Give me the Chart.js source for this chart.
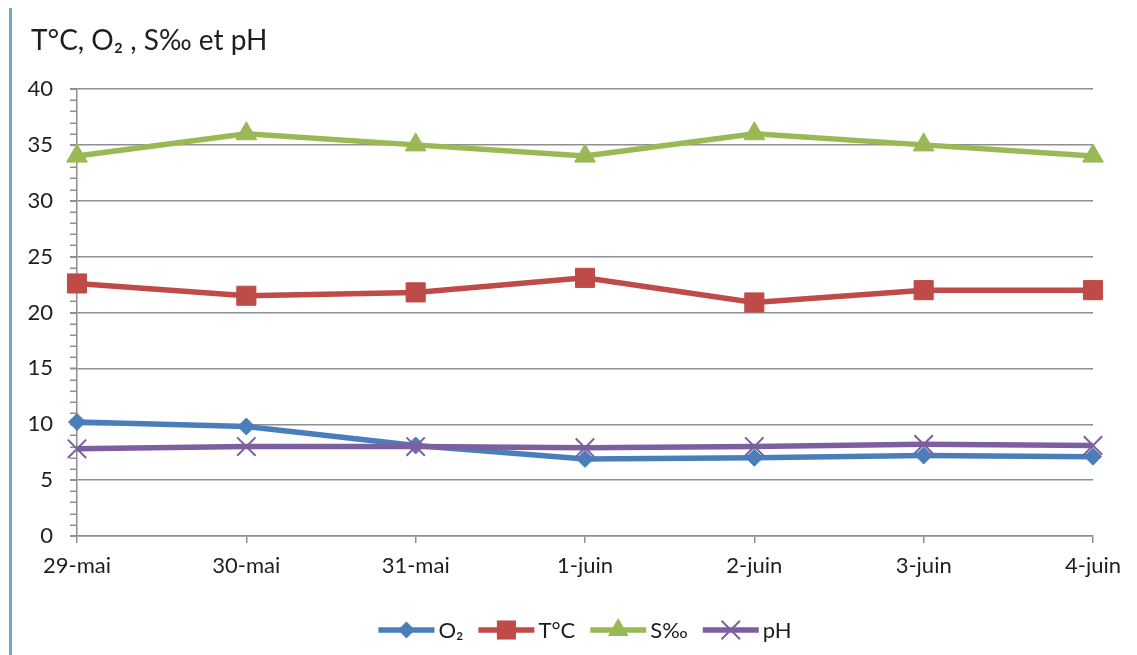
<!DOCTYPE html>
<html>
<head>
<meta charset="utf-8">
<script src="https://cdn.jsdelivr.net/npm/chart.js@4/dist/chart.umd.min.js"></script>
<style>
  html, body { margin: 0; padding: 0; background: #ffffff; }
  #wrap { position: relative; width: 1137px; height: 655px; }
  #frame { position: absolute; left: 9px; top: 8px; bottom: 0; width: 3px; background: #6fa9c6; }
  canvas { position: absolute; left: 0; top: 0; }
</style>
</head>
<body>
<div id="wrap">
  <div id="frame"></div>
  <canvas id="c" width="1137" height="655"></canvas>
</div>
<script>
// Daily measurements, 29 May to 4 June
const categories = ['29-mai', '30-mai', '31-mai', '1-juin', '2-juin', '3-juin', '4-juin'];
const o2 = [10.2, 9.8, 8.1, 6.9, 7.0, 7.2, 7.1];
const temperature = [22.6, 21.5, 21.8, 23.1, 20.9, 22.0, 22.0];
const salinity = [34, 36, 35, 34, 36, 35, 34];
const ph = [7.8, 8.0, 8.0, 7.9, 8.0, 8.2, 8.1];
const yMin = 0, yMax = 40, yStep = 5, yMinorStep = 1;

const FONT = "Lato, 'DejaVu Sans', sans-serif";
const TEXT = '#1e1e1e';
const GRID = '#8f8f8f';

const series = [
  { label: 'O\u2082', data: o2, color: '#4A7EBB', marker: 'rectRot', radius: 8.5, order: 4 },
  { label: 'T\u00B0C', data: temperature, color: '#BE4B48', marker: 'rect', radius: 13.5, order: 3 },
  { label: 'S\u2030', data: salinity, color: '#98B954', marker: 'triangle', radius: 12, order: 2 },
  { label: 'pH', data: ph, color: '#7D5FA0', marker: 'crossRot', radius: 13, order: 1 }
];

// Small marker painter used for the legend samples
function paintMarker(ctx, kind, x, y, r, color) {
  ctx.save();
  ctx.fillStyle = color;
  ctx.strokeStyle = color;
  ctx.beginPath();
  if (kind === 'rectRot') {
    ctx.moveTo(x - r, y); ctx.lineTo(x, y - r); ctx.lineTo(x + r, y); ctx.lineTo(x, y + r);
    ctx.closePath(); ctx.fill();
  } else if (kind === 'rect') {
    const s = Math.SQRT1_2 * r;
    ctx.rect(x - s, y - s, 2 * s, 2 * s); ctx.fill();
  } else if (kind === 'triangle') {
    ctx.moveTo(x, y - r);
    ctx.lineTo(x + r * Math.sin(Math.PI * 2 / 3), y - r * Math.cos(Math.PI * 2 / 3));
    ctx.lineTo(x + r * Math.sin(Math.PI * 4 / 3), y - r * Math.cos(Math.PI * 4 / 3));
    ctx.closePath(); ctx.fill();
  } else if (kind === 'crossRot') {
    const d = r * Math.SQRT1_2;
    ctx.lineWidth = 2;
    ctx.moveTo(x - d, y - d); ctx.lineTo(x + d, y + d);
    ctx.moveTo(x - d, y + d); ctx.lineTo(x + d, y - d);
    ctx.stroke();
  }
  ctx.restore();
}

const decorations = {
  id: 'decorations',
  beforeDatasetsDraw(chart) {
    // minor ticks on the value axis
    const ctx = chart.ctx;
    const y = chart.scales.y;
    const left = chart.chartArea.left;
    ctx.save();
    ctx.strokeStyle = GRID;
    ctx.lineWidth = 1.5;
    for (let v = yMin; v <= yMax; v += yMinorStep) {
      const py = Math.round(y.getPixelForValue(v)) + 0.25;
      ctx.beginPath();
      ctx.moveTo(left - 7, py);
      ctx.lineTo(left, py);
      ctx.stroke();
    }
    ctx.restore();
  },
  afterDraw(chart) {
    const ctx = chart.ctx;
    // title
    ctx.save();
    ctx.fillStyle = TEXT;
    ctx.font = '28px ' + FONT;
    ctx.textBaseline = 'alphabetic';
    ctx.textAlign = 'left';
    ctx.fillText('T\u00B0C, O\u2082 , S\u2030 et pH', 31, 50);

    // legend: line sample with marker, then label
    ctx.font = '22px ' + FONT;
    ctx.textBaseline = 'middle';
    const lineLen = 56, gapText = 4, gapItem = 15;
    const widths = series.map(s => lineLen + gapText + ctx.measureText(s.label).width);
    const total = widths.reduce((a, b) => a + b, 0) + gapItem * (series.length - 1);
    const ca = chart.chartArea;
    let x = (ca.left + ca.right) / 2 - total / 2;
    const ly = 630;
    series.forEach((s, i) => {
      ctx.strokeStyle = s.color;
      ctx.lineWidth = 5.5;
      ctx.beginPath();
      ctx.moveTo(x, ly);
      ctx.lineTo(x + lineLen, ly);
      ctx.stroke();
      paintMarker(ctx, s.marker, x + lineLen / 2, ly, s.radius, s.color);
      ctx.fillStyle = TEXT;
      ctx.fillText(s.label, x + lineLen + gapText, ly + 1);
      x += widths[i] + gapItem;
    });
    ctx.restore();
  }
};

new Chart(document.getElementById('c'), {
  type: 'line',
  data: {
    labels: categories,
    datasets: series.map(s => ({
      label: s.label,
      data: s.data,
      order: s.order,
      borderColor: s.color,
      backgroundColor: s.color,
      borderWidth: 5.5,
      pointStyle: s.marker,
      pointRadius: s.radius,
      pointHoverRadius: s.radius,
      pointBorderWidth: s.marker === 'crossRot' ? 2 : 1,
      pointBorderColor: s.color,
      pointBackgroundColor: s.color,
      tension: 0,
      fill: false
    }))
  },
  options: {
    responsive: false,
    animation: false,
    devicePixelRatio: 1,
    layout: { padding: { top: 89, right: 44, bottom: 0, left: 0 } },
    plugins: { legend: { display: false }, title: { display: false }, tooltip: { enabled: false } },
    scales: {
      x: {
        type: 'category',
        offset: false,
        grid: { display: true, drawOnChartArea: false, drawTicks: true, tickLength: 7, color: GRID, lineWidth: 1.5 },
        border: { display: true, color: GRID, width: 1.5 },
        ticks: { color: TEXT, font: { family: FONT, size: 22 }, padding: 10, maxRotation: 0, autoSkip: false },
        afterFit(scale) { scale.height = 119; }
      },
      y: {
        min: yMin,
        max: yMax,
        grid: { color: GRID, lineWidth: 1.5, tickLength: 7, drawTicks: true },
        border: { display: true, color: GRID, width: 1.5 },
        ticks: { stepSize: yStep, color: TEXT, font: { family: FONT, size: 22 }, padding: 17 },
        afterFit(scale) { scale.width = 77; }
      }
    }
  },
  plugins: [decorations]
});
</script>
</body>
</html>
